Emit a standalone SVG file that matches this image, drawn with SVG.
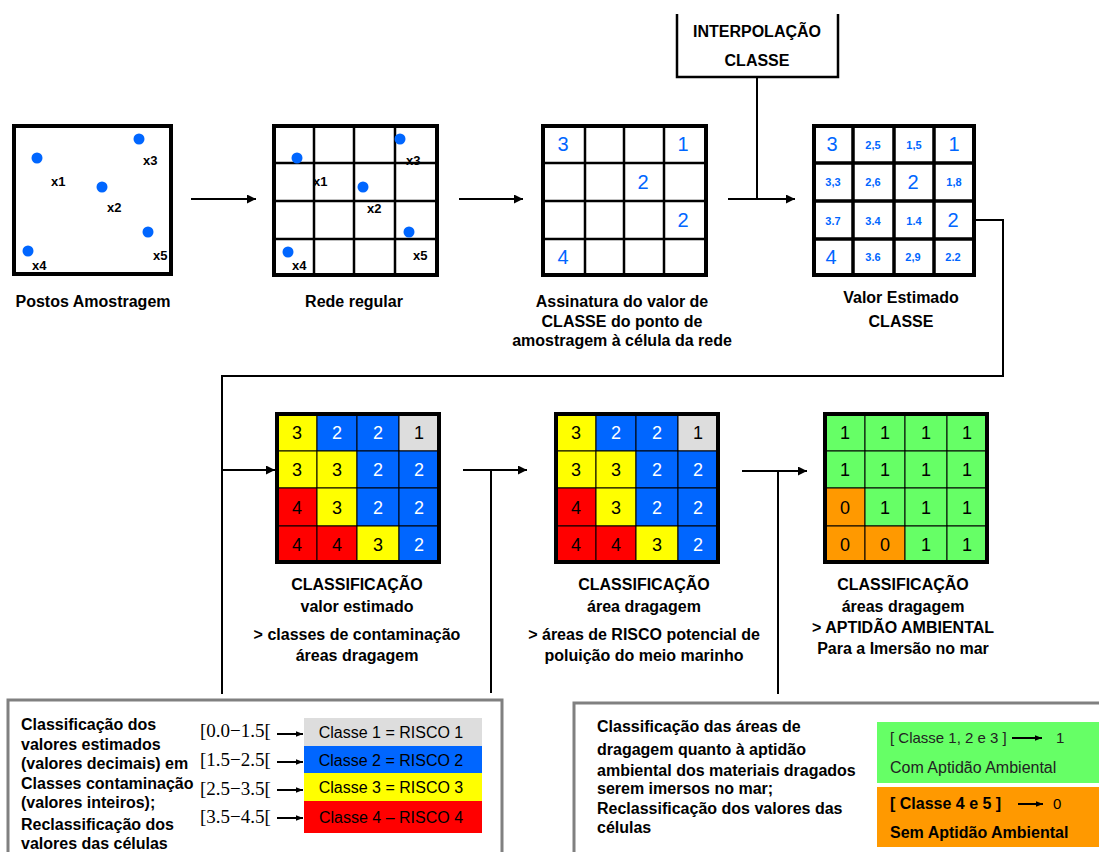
<svg xmlns="http://www.w3.org/2000/svg" width="1099" height="852" viewBox="0 0 1099 852">
<defs>
<marker id="ah" markerUnits="userSpaceOnUse" markerWidth="9" markerHeight="9" viewBox="0 0 10 10" refX="10" refY="5" orient="auto"><path d="M0,0 L10,5 L0,10 z" fill="#000"/></marker>
<marker id="ahs" markerUnits="userSpaceOnUse" markerWidth="7" markerHeight="7" viewBox="0 0 10 10" refX="10" refY="5" orient="auto"><path d="M0,1 L10,5 L0,9 z" fill="#000"/></marker>
</defs>
<style>
text{font-family:"Liberation Sans",Arial,sans-serif}
.lb{font-weight:bold;font-size:16px;fill:#000;text-anchor:middle}
.lbl{font-weight:bold;font-size:16px;fill:#000;text-anchor:middle}
.xl{font-weight:bold;font-size:13px;fill:#000}
.dot{fill:#0066FF}
.frame{fill:#fff;stroke:#000;stroke-width:4}
.in{stroke:#000;stroke-width:2.5;fill:none}
.in4{stroke:#000;stroke-width:3.5;fill:none}
.bn{font-size:20px;fill:#0066FF;text-anchor:middle}
.sn{font-size:11px;font-weight:bold;fill:#0066FF;text-anchor:middle}
.gn{font-size:18px;text-anchor:middle}
.cell{stroke:#000;stroke-width:1}
.Y{fill:#FFFF00}.B{fill:#0066FF}.R{fill:#FF0000}.G{fill:#DDDDDD}.V{fill:#66FF66}.O{fill:#FF9900}
.con{stroke:#000;stroke-width:2;fill:none}
.bt{font-weight:bold;font-size:16px;fill:#000}
.iv{font-family:"Liberation Serif","Times New Roman",serif;font-size:19px;fill:#000}
.ct{font-size:16px;fill:#000;text-anchor:middle}
</style>
<rect width="1099" height="852" fill="#fff"/>

<g id="connectors">
<line class="con" x1="191" y1="199" x2="256" y2="199" marker-end="url(#ah)"/>
<line class="con" x1="459" y1="199" x2="523" y2="199" marker-end="url(#ah)"/>
<line class="con" x1="728" y1="199" x2="795" y2="199" marker-end="url(#ah)"/>
<line class="con" x1="757" y1="77" x2="757" y2="199"/>
<polyline class="con" points="976,220 1003,220 1003,376 222,376 222,694"/>
<line class="con" x1="222" y1="470" x2="275" y2="470" marker-end="url(#ah)"/>
<line class="con" x1="463" y1="470" x2="527" y2="470" marker-end="url(#ah)"/>
<line class="con" x1="491" y1="470" x2="491" y2="693"/>
<line class="con" x1="742" y1="471" x2="807" y2="471" marker-end="url(#ah)"/>
<line class="con" x1="778" y1="471" x2="778" y2="694"/>
</g>

<g id="interpolacao">
<path d="M677,14 V77 H838 V14" fill="none" stroke="#000" stroke-width="2.5"/>
<text class="lbl" x="757" y="37">INTERPOLAÇÃO</text>
<text class="lbl" x="757" y="66">CLASSE</text>
</g>

<g id="pontos">
<rect class="frame" x="14" y="126" width="157" height="148"/>
<circle class="dot" cx="37" cy="158" r="5.5"/>
<circle class="dot" cx="139" cy="139" r="5.5"/>
<circle class="dot" cx="102" cy="187" r="5.5"/>
<circle class="dot" cx="148" cy="232" r="5.5"/>
<circle class="dot" cx="28" cy="251" r="5.5"/>
<text class="xl" x="51" y="186">x1</text>
<text class="xl" x="143" y="165">x3</text>
<text class="xl" x="107" y="212">x2</text>
<text class="xl" x="153" y="260">x5</text>
<text class="xl" x="32" y="270">x4</text>
<text class="lb" x="93" y="307">Postos Amostragem</text>
</g>

<g id="rede">
<rect class="frame" x="274" y="126" width="163" height="149"/>
<path class="in" d="M314,126V275M354,126V275M395,126V275M274,163H437M274,201H437M274,239H437"/>
<circle class="dot" cx="297" cy="158" r="5.5"/>
<circle class="dot" cx="400" cy="139" r="5.5"/>
<circle class="dot" cx="363" cy="187" r="5.5"/>
<circle class="dot" cx="409" cy="232" r="5.5"/>
<circle class="dot" cx="288" cy="252" r="5.5"/>
<text class="xl" x="313" y="186">x1</text>
<text class="xl" x="406" y="165">x3</text>
<text class="xl" x="367" y="213">x2</text>
<text class="xl" x="413" y="260">x5</text>
<text class="xl" x="292" y="270">x4</text>
<text class="lb" x="354" y="307">Rede regular</text>
</g>

<g id="assinatura">
<rect class="frame" x="543" y="126" width="163" height="149"/>
<path class="in" d="M585,126V275M624,126V275M664,126V275M543,163H706M543,201H706M543,239H706"/>
<text class="bn" x="563" y="151">3</text>
<text class="bn" x="683" y="151">1</text>
<text class="bn" x="643" y="189">2</text>
<text class="bn" x="683" y="227">2</text>
<text class="bn" x="563" y="264">4</text>
<text class="lb" x="622" y="307">Assinatura do valor de</text>
<text class="lb" x="622" y="327">CLASSE do ponto de</text>
<text class="lb" x="622" y="346">amostragem à célula da rede</text>
</g>

<g id="valor-estimado">
<rect class="frame" x="814" y="126" width="160" height="149"/>
<path class="in4" d="M853,126V275M894,126V275M934,126V275M814,163H974M814,201H974M814,239H974"/>
<text class="bn" x="832" y="151">3</text>
<text class="sn" x="873" y="149">2,5</text>
<text class="sn" x="914" y="149">1,5</text>
<text class="bn" x="954" y="151">1</text>
<text class="sn" x="833" y="186">3,3</text>
<text class="sn" x="873" y="186">2,6</text>
<text class="bn" x="913" y="189">2</text>
<text class="sn" x="954" y="186">1,8</text>
<text class="sn" x="833" y="225">3.7</text>
<text class="sn" x="873" y="225">3.4</text>
<text class="sn" x="914" y="225">1.4</text>
<text class="bn" x="953" y="227">2</text>
<text class="bn" x="831" y="264">4</text>
<text class="sn" x="873" y="261">3.6</text>
<text class="sn" x="913" y="261">2,9</text>
<text class="sn" x="953" y="261">2.2</text>
<text class="lb" x="901" y="303">Valor Estimado</text>
<text class="lb" x="901" y="327">CLASSE</text>
</g>

<g id="classificacao-1" transform="translate(277,414)">
<rect class="cell Y" x="0" y="0" width="40" height="37"/><rect class="cell B" x="40" y="0" width="40" height="37"/><rect class="cell B" x="80" y="0" width="42" height="37"/><rect class="cell G" x="122" y="0" width="40" height="37"/>
<rect class="cell Y" x="0" y="37" width="40" height="37"/><rect class="cell Y" x="40" y="37" width="40" height="37"/><rect class="cell B" x="80" y="37" width="42" height="37"/><rect class="cell B" x="122" y="37" width="40" height="37"/>
<rect class="cell R" x="0" y="74" width="40" height="38"/><rect class="cell Y" x="40" y="74" width="40" height="38"/><rect class="cell B" x="80" y="74" width="42" height="38"/><rect class="cell B" x="122" y="74" width="40" height="38"/>
<rect class="cell R" x="0" y="112" width="40" height="36"/><rect class="cell R" x="40" y="112" width="40" height="36"/><rect class="cell Y" x="80" y="112" width="42" height="36"/><rect class="cell B" x="122" y="112" width="40" height="36"/>
<rect x="0" y="0" width="162" height="148" fill="none" stroke="#000" stroke-width="4"/>
<text class="gn" x="20" y="25">3</text><text class="gn" x="60" y="25" fill="#fff">2</text><text class="gn" x="101" y="25" fill="#fff">2</text><text class="gn" x="142" y="25">1</text>
<text class="gn" x="20" y="62">3</text><text class="gn" x="60" y="62">3</text><text class="gn" x="101" y="62" fill="#fff">2</text><text class="gn" x="142" y="62" fill="#fff">2</text>
<text class="gn" x="20" y="100">4</text><text class="gn" x="60" y="100">3</text><text class="gn" x="101" y="100" fill="#fff">2</text><text class="gn" x="142" y="100" fill="#fff">2</text>
<text class="gn" x="20" y="137">4</text><text class="gn" x="60" y="137">4</text><text class="gn" x="101" y="137">3</text><text class="gn" x="142" y="137" fill="#fff">2</text>
<text class="lbl" x="80" y="176">CLASSIFICAÇÃO</text>
<text class="lb" x="80" y="198">valor estimado</text>
<text class="lb" x="80" y="226">&gt; classes de contaminação</text>
<text class="lb" x="80" y="247">áreas dragagem</text>
</g>

<g id="classificacao-2" transform="translate(556,414)">
<rect class="cell Y" x="0" y="0" width="40" height="37"/><rect class="cell B" x="40" y="0" width="40" height="37"/><rect class="cell B" x="80" y="0" width="42" height="37"/><rect class="cell G" x="122" y="0" width="40" height="37"/>
<rect class="cell Y" x="0" y="37" width="40" height="37"/><rect class="cell Y" x="40" y="37" width="40" height="37"/><rect class="cell B" x="80" y="37" width="42" height="37"/><rect class="cell B" x="122" y="37" width="40" height="37"/>
<rect class="cell R" x="0" y="74" width="40" height="38"/><rect class="cell Y" x="40" y="74" width="40" height="38"/><rect class="cell B" x="80" y="74" width="42" height="38"/><rect class="cell B" x="122" y="74" width="40" height="38"/>
<rect class="cell R" x="0" y="112" width="40" height="36"/><rect class="cell R" x="40" y="112" width="40" height="36"/><rect class="cell Y" x="80" y="112" width="42" height="36"/><rect class="cell B" x="122" y="112" width="40" height="36"/>
<rect x="0" y="0" width="162" height="148" fill="none" stroke="#000" stroke-width="4"/>
<text class="gn" x="20" y="25">3</text><text class="gn" x="60" y="25" fill="#fff">2</text><text class="gn" x="101" y="25" fill="#fff">2</text><text class="gn" x="142" y="25">1</text>
<text class="gn" x="20" y="62">3</text><text class="gn" x="60" y="62">3</text><text class="gn" x="101" y="62" fill="#fff">2</text><text class="gn" x="142" y="62" fill="#fff">2</text>
<text class="gn" x="20" y="100">4</text><text class="gn" x="60" y="100">3</text><text class="gn" x="101" y="100" fill="#fff">2</text><text class="gn" x="142" y="100" fill="#fff">2</text>
<text class="gn" x="20" y="137">4</text><text class="gn" x="60" y="137">4</text><text class="gn" x="101" y="137">3</text><text class="gn" x="142" y="137" fill="#fff">2</text>
<text class="lbl" x="88" y="176">CLASSIFICAÇÃO</text>
<text class="lb" x="88" y="198">área dragagem</text>
<text class="lb" x="88" y="226">&gt; áreas de RISCO potencial de</text>
<text class="lb" x="88" y="247">poluição do meio marinho</text>
</g>

<g id="classificacao-3" transform="translate(825,414)">
<rect class="cell V" x="0" y="0" width="40" height="37"/><rect class="cell V" x="40" y="0" width="40" height="37"/><rect class="cell V" x="80" y="0" width="42" height="37"/><rect class="cell V" x="122" y="0" width="40" height="37"/>
<rect class="cell V" x="0" y="37" width="40" height="37"/><rect class="cell V" x="40" y="37" width="40" height="37"/><rect class="cell V" x="80" y="37" width="42" height="37"/><rect class="cell V" x="122" y="37" width="40" height="37"/>
<rect class="cell O" x="0" y="74" width="40" height="38"/><rect class="cell V" x="40" y="74" width="40" height="38"/><rect class="cell V" x="80" y="74" width="42" height="38"/><rect class="cell V" x="122" y="74" width="40" height="38"/>
<rect class="cell O" x="0" y="112" width="40" height="36"/><rect class="cell O" x="40" y="112" width="40" height="36"/><rect class="cell V" x="80" y="112" width="42" height="36"/><rect class="cell V" x="122" y="112" width="40" height="36"/>
<rect x="0" y="0" width="162" height="148" fill="none" stroke="#000" stroke-width="4"/>
<text class="gn" x="20" y="25">1</text><text class="gn" x="60" y="25">1</text><text class="gn" x="101" y="25">1</text><text class="gn" x="142" y="25">1</text>
<text class="gn" x="20" y="62">1</text><text class="gn" x="60" y="62">1</text><text class="gn" x="101" y="62">1</text><text class="gn" x="142" y="62">1</text>
<text class="gn" x="20" y="100">0</text><text class="gn" x="60" y="100">1</text><text class="gn" x="101" y="100">1</text><text class="gn" x="142" y="100">1</text>
<text class="gn" x="20" y="137">0</text><text class="gn" x="60" y="137">0</text><text class="gn" x="101" y="137">1</text><text class="gn" x="142" y="137">1</text>
<text class="lbl" x="78" y="176">CLASSIFICAÇÃO</text>
<text class="lb" x="78" y="198">áreas dragagem</text>
<text class="lb" x="78" y="219">&gt; APTIDÃO AMBIENTAL</text>
<text class="lb" x="78" y="240">Para a Imersão no mar</text>
</g>

<g id="legenda-risco">
<path d="M8,852 V700 H502 V852" fill="none" stroke="#808080" stroke-width="3"/>
<text class="bt" x="21" y="730">Classificação dos</text>
<text class="bt" x="21" y="750">valores estimados</text>
<text class="bt" x="21" y="769">(valores decimais) em</text>
<text class="bt" x="21" y="789">Classes contaminação</text>
<text class="bt" x="21" y="808">(valores inteiros);</text>
<text class="bt" x="21" y="830">Reclassificação dos</text>
<text class="bt" x="21" y="849">valores das células</text>
<text class="iv" x="200" y="737">[0.0−1.5[</text>
<text class="iv" x="200" y="766">[1.5−2.5[</text>
<text class="iv" x="200" y="795">[2.5−3.5[</text>
<text class="iv" x="200" y="823">[3.5−4.5[</text>
<line class="con" x1="277" y1="734" x2="303" y2="734" marker-end="url(#ahs)"/>
<line class="con" x1="277" y1="762" x2="303" y2="762" marker-end="url(#ahs)"/>
<line class="con" x1="277" y1="790" x2="303" y2="790" marker-end="url(#ahs)"/>
<line class="con" x1="277" y1="818" x2="303" y2="818" marker-end="url(#ahs)"/>
<rect class="G" x="304" y="718" width="178" height="28"/>
<rect class="B" x="304" y="746" width="178" height="27"/>
<rect class="Y" x="304" y="773" width="178" height="28"/>
<rect class="R" x="304" y="801" width="178" height="32"/>
<text class="ct" x="391" y="738">Classe 1 = RISCO 1</text>
<text class="ct" x="391" y="766">Classe 2 = RISCO 2</text>
<text class="ct" x="391" y="793">Classe 3 = RISCO 3</text>
<text class="ct" x="391" y="823">Classe 4 – RISCO 4</text>
</g>

<g id="legenda-aptidao">
<path d="M574,852 V703 H1099" fill="none" stroke="#808080" stroke-width="3"/>
<text class="bt" x="597" y="732">Classificação das áreas de</text>
<text class="bt" x="597" y="755">dragagem quanto à aptidão</text>
<text class="bt" x="597" y="776">ambiental dos materiais dragados</text>
<text class="bt" x="597" y="794" font-size="14">serem imersos no mar;</text>
<text class="bt" x="597" y="814">Reclassificação dos valores das</text>
<text class="bt" x="597" y="833">células</text>
<rect class="V" x="877" y="722" width="222" height="61"/>
<rect class="O" x="877" y="787" width="222" height="60"/>
<text x="890" y="743" font-size="15" fill="#222">[ Classe 1, 2 e 3 ]</text>
<line class="con" x1="1012" y1="738" x2="1042" y2="738" stroke-width="1.5" marker-end="url(#ahs)"/>
<text x="1056" y="743" font-size="15" fill="#222">1</text>
<text x="890" y="773" font-size="16" fill="#222">Com Aptidão Ambiental</text>
<text x="890" y="809" font-size="16" font-weight="bold" fill="#000">[ Classe 4 e 5 ]</text>
<line class="con" x1="1018" y1="804" x2="1043" y2="804" stroke-width="1.5" marker-end="url(#ahs)"/>
<text x="1053" y="809" font-size="15" fill="#000">0</text>
<text x="890" y="838" font-size="16" font-weight="bold" fill="#000">Sem Aptidão Ambiental</text>
</g>
</svg>
